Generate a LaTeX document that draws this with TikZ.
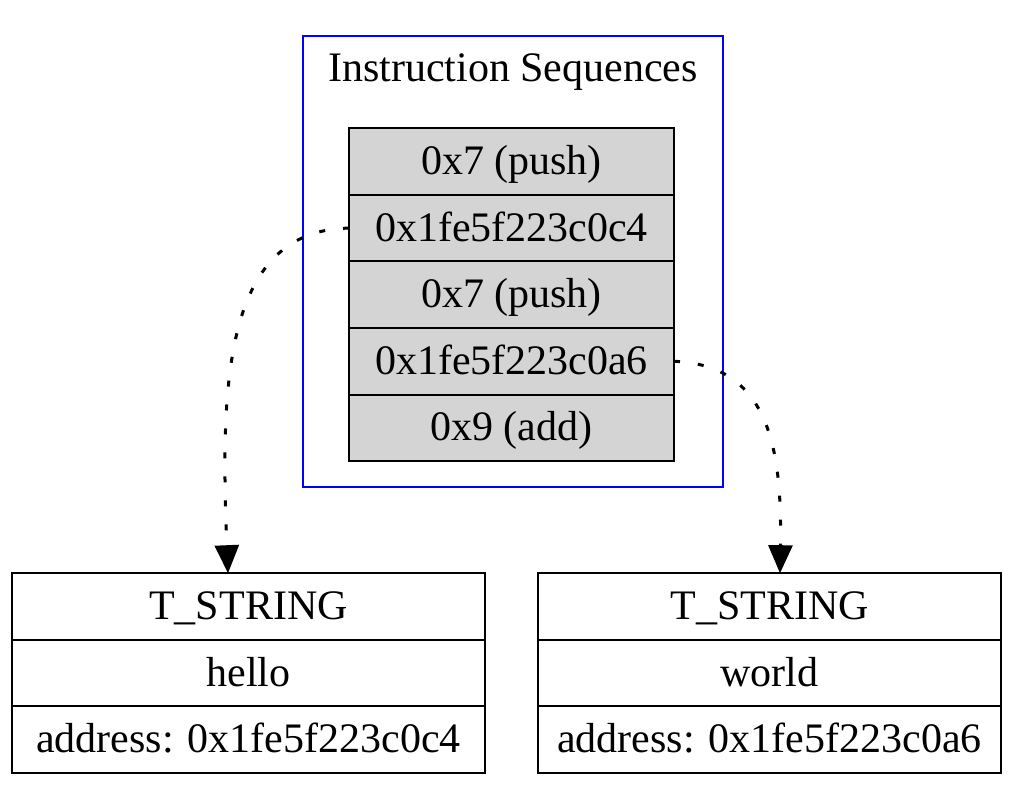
\documentclass[tikz,border=0pt]{standalone}
\usepackage{fontspec}
\setmainfont{Liberation Serif}
\usetikzlibrary{positioning,arrows.meta}
\tikzset{
	txt/.style={font=\fontsize{21}{25}\selectfont, text height=16pt, text depth=3pt},
	cell/.style={txt, draw, line width=1pt, fill=black!17, minimum width=162.5pt, minimum height=33.3pt, inner sep=0pt, outer sep=0pt},
	field/.style={txt, draw, line width=1pt, fill=white, minimum height=33.3pt, inner sep=0pt, outer sep=0pt},
	ref/.style={line width=1.5pt, dash pattern=on 3pt off 9pt, -{Triangle[length=14pt, width=12pt]}}
}

\begin{document}
\begin{tikzpicture}[x=0.5pt, y=-0.5pt, node distance=0pt]
	% page frame (pixel grid of the reference)
	\useasboundingbox (0,0) rectangle (1024,787);
	
	% ---- cluster: instruction sequences ----
	\draw[blue, line width=1pt] (303,36) rectangle (723,487);
	\node[txt] (title) at (513,69) {Instruction Sequences};
	
	\node[cell] (seq1) at (511.5,161.5) {0x7 (push)};
	\node[cell, below=of seq1] (seq2) {0x1fe5f223c0c4};
	\node[cell, below=of seq2] (seq3) {0x7 (push)};
	\node[cell, below=of seq3] (seq4) {0x1fe5f223c0a6};
	\node[cell, below=of seq4] (seq5) {0x9 (add)};
	
	% ---- string objects ----
	\node[field, minimum width=236.5pt] (str1a) at (248.5,606.5) {T\_STRING};
	\node[field, minimum width=236.5pt, below=of str1a] (str1b) {hello};
	\node[field, minimum width=236.5pt, below=of str1b] (str1c) {address: 0x1fe5f223c0c4};
	
	\node[field, minimum width=231.5pt] (str2a) at (769.5,606.5) {T\_STRING};
	\node[field, minimum width=231.5pt, below=of str2a] (str2b) {world};
	\node[field, minimum width=231.5pt, below=of str2b] (str2c) {address: 0x1fe5f223c0a6};
	
	% ---- references ----
	\coordinate (hit1) at ([xshift=-10.25pt]str1a.north);
	\coordinate (hit2) at ([xshift=5.25pt]str2a.north);
	\draw[ref] (seq2.west) .. controls (225,230) and (220,380) .. (hit1);
	\draw[ref] (seq4.east) .. controls (770,365) and (782,450) .. (hit2);
	
\end{tikzpicture}
\end{document}
